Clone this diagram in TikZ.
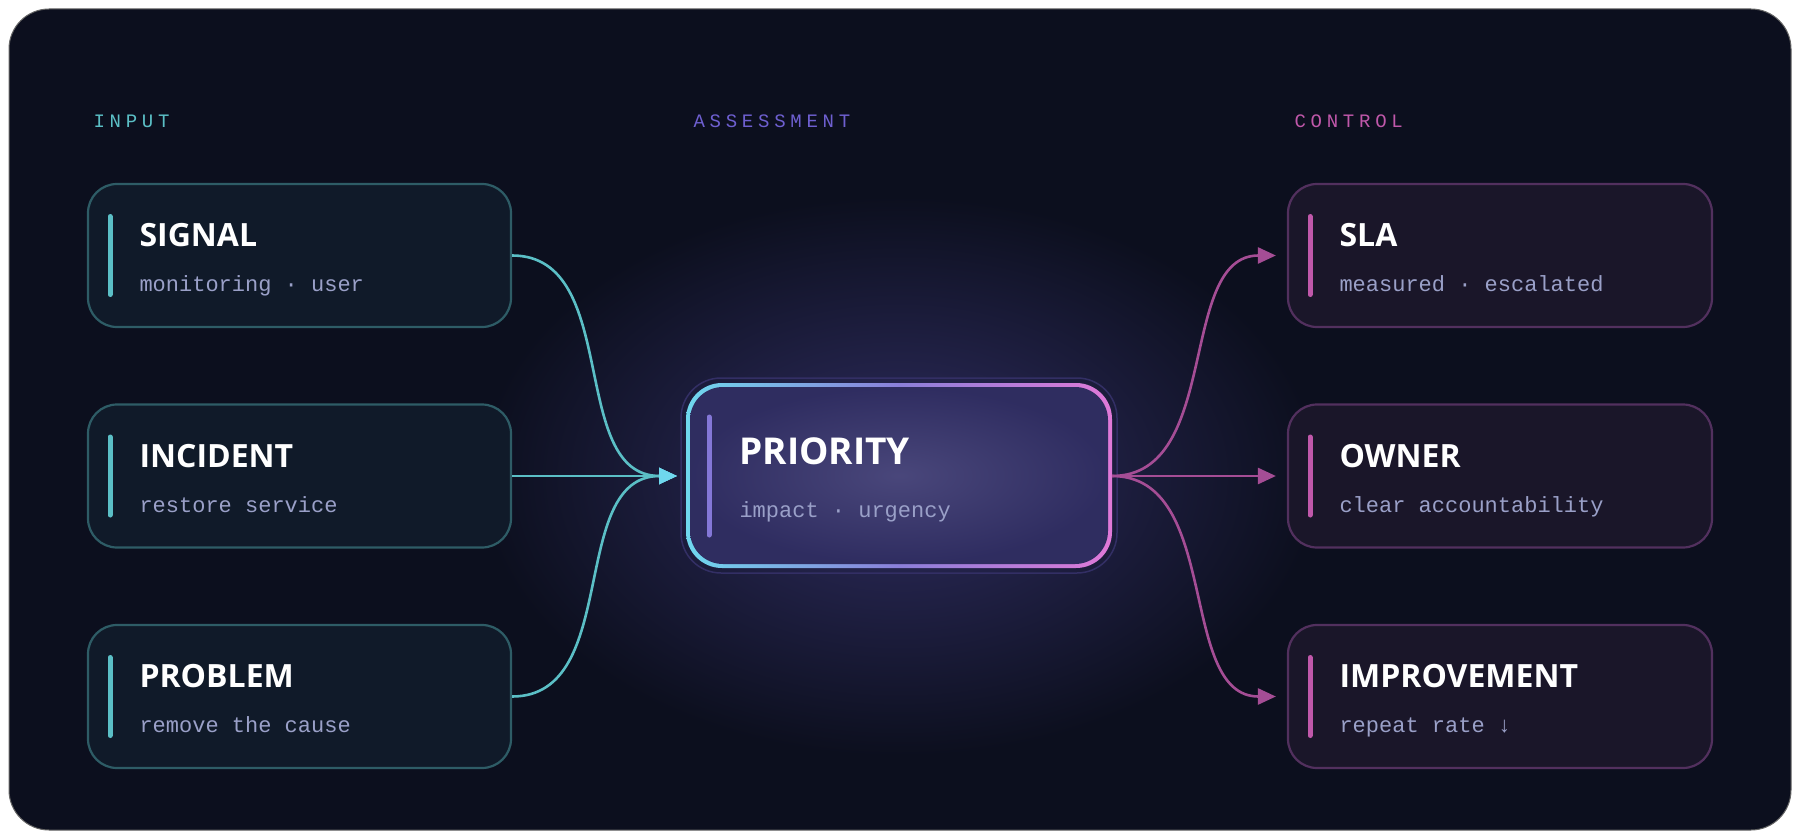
\documentclass[tikz,border=0pt]{standalone}
\usepackage{fontspec}
\setmainfont{Liberation Sans}
\newfontfamily\titlefont{Open Sans}
\newfontfamily\monofont{Liberation Mono}
\newfontfamily\labfont[LetterSpace=25]{Liberation Mono}
\usetikzlibrary{arrows.meta,calc}
\definecolor{bg}{HTML}{0C0F1E}
\definecolor{teal}{HTML}{5BBFC6}
\definecolor{tealb}{HTML}{2E5C66}
\definecolor{lfill}{HTML}{101A29}
\definecolor{mag}{HTML}{C058AA}
\definecolor{magb}{HTML}{52305E}
\definecolor{rfill}{HTML}{1A1629}
\definecolor{cfill}{HTML}{35326C}
\definecolor{sub}{HTML}{9AA0C8}
\definecolor{viol}{HTML}{6E5FD0}
\definecolor{cyan2}{HTML}{6FD8EE}
\definecolor{pink2}{HTML}{E079D8}
\begin{document}
\begin{tikzpicture}[x=1pt,y=-1pt,
  lbox/.style={draw=tealb,fill=lfill,line width=2.2pt,rounded corners=29pt,minimum width=423pt,minimum height=143pt},
  rbox/.style={draw=magb,fill=rfill,line width=2.2pt,rounded corners=29pt,minimum width=424pt,minimum height=143pt},
  ttl/.style={anchor=base west,text=white,font=\titlefont\bfseries\fontsize{32}{32}\selectfont},
  sbt/.style={anchor=base west,text=sub,font=\monofont\fontsize{22}{22}\selectfont},
  hdr/.style={anchor=base west,font=\labfont\fontsize{19}{19}\selectfont},
  lcon/.style={teal,line width=2.6pt},
  rcon/.style={mag!85!bg,line width=2.6pt},
]
\useasboundingbox (0,0) rectangle (1800,840);
\fill[white] (0,0) rectangle (1800,840);
\fill[bg,draw=black!60,line width=1pt,rounded corners=40pt] (9,9) rectangle (1791,830);
\begin{scope}
\clip[rounded corners=40pt] (9,9) rectangle (1791,830);
\shade[inner color=cfill!85!bg,outer color=bg] (899,476) ellipse (420 and 280);
\end{scope}
% headers
\node[hdr,text=teal] (h1) at (90,128) {INPUT};
\node[hdr,text=viol] (h2) at (690,128) {ASSESSMENT};
\node[hdr,text=mag] (h3) at (1291,128) {CONTROL};
% left boxes
\foreach \n/\y/\t/\s in {a/255.5/SIGNAL/monitoring · user, b/476/INCIDENT/restore service, c/696.5/PROBLEM/remove the cause}{
  \node[lbox] (\n) at (299.5,\y) {};
  \draw[teal,line width=5pt,line cap=round] (110,\y-39) -- (110,\y+39);
  \node[ttl] (\n t) at (136,\y-9) {\t};
  \node[sbt] (\n s) at (136,\y+36) {\s};
}
% right boxes
\foreach \n/\y/\t/\s in {d/255.5/SLA/measured · escalated, e/476/OWNER/clear accountability, f/696.5/IMPROVEMENT/repeat rate ↓}{
  \node[rbox] (\n) at (1500,\y) {};
  \draw[mag,line width=5pt,line cap=round] (1310,\y-39) -- (1310,\y+39);
  \node[ttl] (\n t) at (1336,\y-9) {\t};
  \node[sbt] (\n s) at (1336,\y+36) {\s};
}
% center
\draw[viol!40!bg,line width=1.5pt,rounded corners=40pt] (681,378) rectangle (1117,573);
\shade[left color=cyan2,right color=pink2,middle color=viol!80!white,rounded corners=36pt] (686,383) rectangle (1112,568);
\shade[inner color=cfill!90!white,outer color=cfill!85!bg,rounded corners=33pt] (690,387) rectangle (1108,564);
\node[minimum width=426pt,minimum height=185pt] (p) at (899,475.5) {};
\draw[viol!85!white,line width=5pt,line cap=round] (709,417) -- (709,535);
\node[ttl,font=\titlefont\bfseries\fontsize{37}{37}\selectfont] (pt) at (736,464) {PRIORITY};
\node[sbt] (ps) at (736,517) {impact · urgency};
% connectors
\coordinate (pin) at (677,476);
\coordinate (pout) at (1112,476);
\foreach \n in {a,b,c}{
  \draw[lcon,-{Triangle[length=18pt,width=16pt,fill=cyan2,color=cyan2]}] (\n.east) .. controls ($(\n.east)+(110,0)$) and ($(pin)+(-110,0)$) .. (pin);
}
\foreach \n in {d,e,f}{
  \draw[rcon,-{Triangle[length=18pt,width=16pt]}] (pout) .. controls ($(pout)+(110,0)$) and ($(\n.west)+(-110,0)$) .. ($(\n.west)+(-11,0)$);
}
\end{tikzpicture}
\end{document}
